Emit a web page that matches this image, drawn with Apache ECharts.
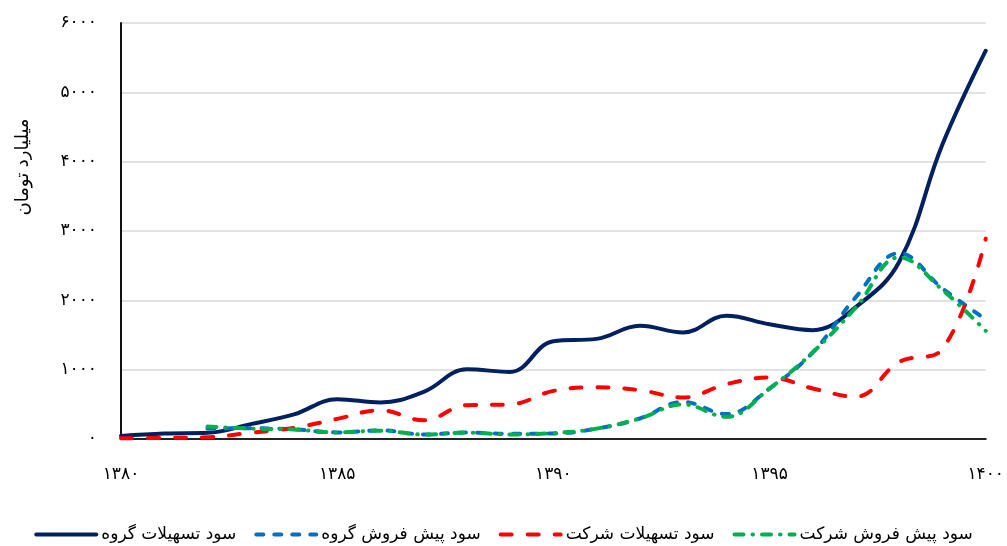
<!DOCTYPE html>
<html>
<head>
<meta charset="utf-8">
<script src="https://cdn.jsdelivr.net/npm/echarts@6/dist/echarts.min.js"></script>
<style>
html,body{margin:0;padding:0;background:#fff;}
#c{width:1007px;height:546px;}
</style>
</head>
<body>
<div id="c"></div>
<script>
const years = [1380,1381,1382,1383,1384,1385,1386,1387,1388,1389,1390,1391,1392,1393,1394,1395,1396,1397,1398,1399,1400];
const yTicks = [0,1000,2000,3000,4000,5000,6000];
const groupLoans = [45,80,90,214,355,574,527,680,1005,968,1411,1444,1632,1537,1777,1654,1570,1906,2556,4250,5600];
const groupPresale = [null,null,150,155,140,95,125,65,93,75,80,150,296,535,360,728,1250,2050,2680,2171,1724];
const companyLoans = [10,15,25,90,160,290,415,270,488,498,694,747,704,599,791,887,729,610,1113,1300,2890];
const companyPresale = [null,null,180,150,137,95,120,65,93,65,85,150,296,500,320,730,1250,1900,2620,2150,1560];
const names = ['سود تسهیلات گروه','سود پیش فروش گروه','سود تسهیلات شرکت','سود پیش فروش شرکت'];

const fa = s => String(s).replace(/[0-9]/g, d => '۰۱۲۳۴۵۶۷۸۹'[d]);
const FONT = "'DejaVu Sans', sans-serif";

const chart = echarts.init(document.getElementById('c'), null, {renderer:'canvas'});
function mk(name, data, color, type, z){
  return {
    name, type:'line', data, smooth:0.4, showSymbol:false, symbol:'none', symbolSize:0, connectNulls:false, z,
    lineStyle:{color, width:4, type, cap:'round', join:'round'},
    itemStyle:{color}
  };
}
chart.setOption({
  animation:false,
  grid:{left:121, right:21, top:23, bottom:107, containLabel:false},
  xAxis:{
    type:'category', data:years, boundaryGap:false,
    axisLine:{show:true, lineStyle:{color:'#222', width:2}},
    axisTick:{show:false},
    axisLabel:{interval:4, margin:27, color:'#000', fontSize:17, fontFamily:FONT, formatter:v=>fa(v)},
    splitLine:{show:false}
  },
  yAxis:{
    type:'value', min:yTicks[0], max:yTicks[yTicks.length-1], interval:1000,
    axisLine:{show:true, lineStyle:{color:'#111', width:2}},
    axisTick:{show:false},
    axisLabel:{margin:24, color:'#000', fontSize:17, fontFamily:FONT, formatter:v=>fa(v)},
    splitLine:{show:true, lineStyle:{color:'#d9d9d9', width:1.5}}
  },
  legend:{
    data:names, bottom:-2, left:'center', itemWidth:60, itemHeight:14, itemGap:18,
    itemStyle:{opacity:0},
    lineStyle:{width:4, cap:'round'},
    textStyle:{color:'#000', fontSize:17, fontFamily:FONT}
  },
  graphic:[{
    type:'text', x:23, y:167, rotation:Math.PI/2,
    style:{text:'میلیارد تومان', fill:'#000', font:"18px 'DejaVu Sans', sans-serif", align:'center', verticalAlign:'middle'}
  }],
  series:[
    mk(names[0], groupLoans, '#002060', 'solid', 2),
    mk(names[1], groupPresale, '#0070C0', [7,11], 3),
    mk(names[2], companyLoans, '#FF0000', [11,16], 4),
    mk(names[3], companyPresale, '#00B050', [9,9,0.5,9], 5)
  ]
});
</script>
</body>
</html>
